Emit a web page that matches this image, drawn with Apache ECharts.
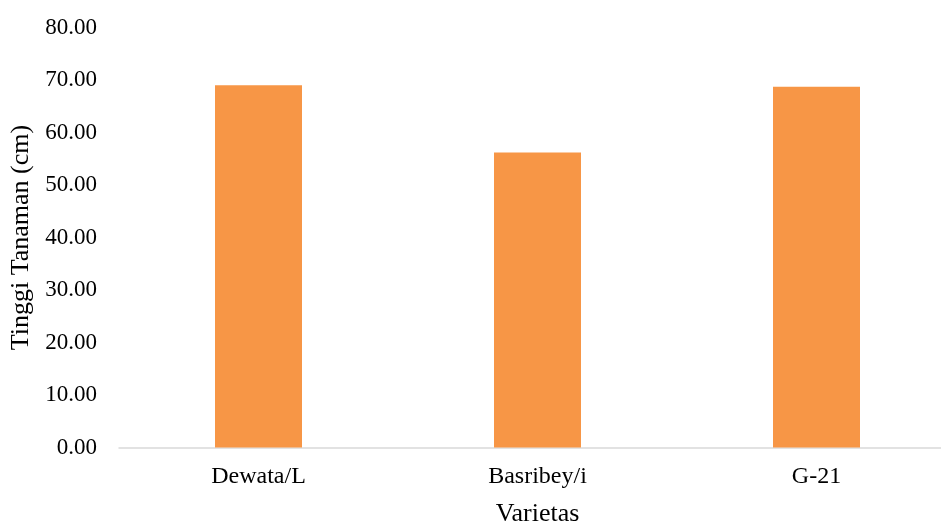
<!DOCTYPE html>
<html>
<head>
<meta charset="utf-8">
<script src="https://cdn.jsdelivr.net/npm/echarts@6/dist/echarts.min.js"></script>
<style>
  html, body { margin: 0; padding: 0; background: #ffffff; }
  #chart { width: 941px; height: 524px; }
</style>
</head>
<body>
<div id="chart"></div>
<script>
// Plant height per variety
const varieties = ['Dewata/L', 'Basribey/i', 'G-21'];
const heights = [69.0, 56.2, 68.7];
const yMin = 0;
const yMax = 80;
const yStep = 10;

const font = 'Liberation Serif, Times New Roman, serif';

const chart = echarts.init(document.getElementById('chart'), null, { renderer: 'canvas' });
chart.setOption({
  animation: false,
  backgroundColor: '#ffffff',
  grid: {
    left: 119, top: 27.5, width: 837, bottom: 76.5,
    containLabel: false,
    outerBoundsMode: 'none'
  },
  xAxis: {
    type: 'category',
    data: varieties,
    name: 'Varietas',
    nameLocation: 'middle',
    nameGap: 54,
    nameTextStyle: { fontFamily: font, fontSize: 26, color: '#000000' },
    axisLine: { lineStyle: { color: '#D9D9D9', width: 1.5 } },
    axisTick: { show: false },
    axisLabel: { fontFamily: font, fontSize: 24, color: '#000000', margin: 17 }
  },
  yAxis: {
    type: 'value',
    min: yMin,
    max: yMax,
    interval: yStep,
    name: 'Tinggi Tanaman (cm)',
    nameLocation: 'middle',
    nameGap: 84,
    nameTextStyle: { fontFamily: font, fontSize: 26, color: '#000000' },
    axisLine: { show: false },
    axisTick: { show: false },
    splitLine: { show: false },
    axisLabel: {
      fontFamily: font, fontSize: 23, color: '#000000', margin: 22,
      formatter: v => v.toFixed(2)
    }
  },
  series: [{
    type: 'bar',
    data: heights,
    barWidth: 87,
    itemStyle: { color: '#F79646' }
  }]
});
</script>
</body>
</html>
